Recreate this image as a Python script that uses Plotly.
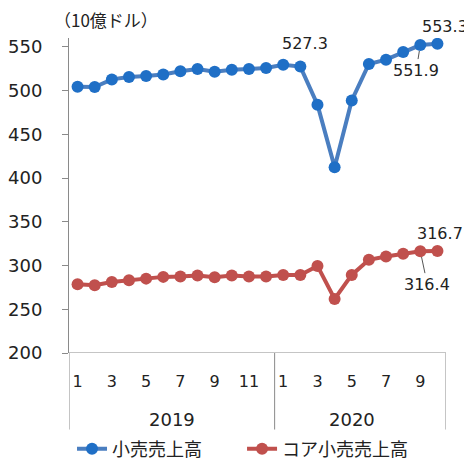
import plotly.graph_objects as go

months = ["1","2","3","4","5","6","7","8","9","10","11","12",
          "1","2","3","4","5","6","7","8","9","10"]
years = ["2019", "2020"]
retail = [504.3, 504.0, 512.7, 515.4, 516.6, 518.4, 521.9, 524.6, 521.5, 523.8, 524.6, 525.7,
          529.5, 527.3, 483.8, 412.4, 488.7, 530.3, 535.2, 544.0, 551.9, 553.3]
core = [278.6, 277.4, 281.2, 283.2, 285.0, 287.0, 287.3, 288.5, 286.6, 288.5, 287.3, 287.3,
        289.2, 289.2, 299.5, 261.8, 289.2, 306.5, 310.2, 313.3, 316.4, 316.7]
series_names = ["小売売上高", "コア小売売上高"]
yticks = [200, 250, 300, 350, 400, 450, 500, 550]

x = list(range(len(months)))
NUM = "Verdana, DejaVu Sans, Noto Sans CJK JP"
JP = "Noto Sans CJK JP"

fig = go.Figure()
fig.add_trace(go.Scatter(x=x, y=retail, name=series_names[0], mode="lines+markers",
                         line=dict(color="#4A7EC0", width=4),
                         marker=dict(color="#1F6FC6", size=12), legend="legend"))
fig.add_trace(go.Scatter(x=x, y=core, name=series_names[1], mode="lines+markers",
                         line=dict(color="#C0504D", width=4),
                         marker=dict(color="#C0504D", size=12), legend="legend2"))

tv = [i for i in x if int(months[i]) % 2 == 1]
fig.update_xaxes(range=[-0.5, len(months) - 0.5], tickvals=tv, ticktext=[months[i] for i in tv],
                 showgrid=False, zeroline=False, showline=False, automargin=False,
                 ticks="outside", ticklen=14, tickcolor="rgba(0,0,0,0)",
                 tickfont=dict(family=NUM, size=16, color="#222"))
fig.update_yaxes(range=[200, 560], tickvals=yticks, showgrid=False, zeroline=False,
                 showline=True, linecolor="#8a8a8a", linewidth=1, automargin=False,
                 ticks="outside", ticklen=6, tickcolor="#8a8a8a", ticklabelstandoff=16,
                 tickfont=dict(family=NUM, size=18, color="#222"))

# category axis line and group dividers
fig.add_shape(type="line", xref="x", yref="y", x0=-0.5, x1=len(months) - 0.5, y0=200, y1=200,
              line=dict(color="#8a8a8a", width=1))
for xv in [-0.5, 11.5, len(months) - 0.5]:
    fig.add_shape(type="line", xref="x", yref="paper", x0=xv, x1=xv, y0=0, y1=-0.243,
                  line=dict(color="#8a8a8a", width=1))
for yr, xc in zip(years, [5.5, 16]):
    fig.add_annotation(x=xc, xref="x", y=-0.21, yref="paper", text=yr, showarrow=False,
                       font=dict(family=NUM, size=18, color="#222"), yanchor="middle")

lab = dict(family=NUM, size=16, color="#222")
fig.add_annotation(x=13, y=retail[13], text="527.3", showarrow=False, yshift=23, xshift=5, font=lab)
fig.add_annotation(x=21, y=retail[21], text="553.3", showarrow=False, yshift=17, xshift=8, font=lab)
fig.add_annotation(x=20, y=retail[20], text="551.9", showarrow=True, arrowhead=0, arrowwidth=1,
                   arrowcolor="#555", ax=-4, ay=25, standoff=6, font=lab)
fig.add_annotation(x=21, y=core[21], text="316.7", showarrow=False, yshift=17, xshift=3, font=lab)
fig.add_annotation(x=20, y=core[20], text="316.4", showarrow=True, arrowhead=0, arrowwidth=1,
                   arrowcolor="#555", ax=7, ay=33, standoff=6, font=lab)

fig.add_annotation(x=-0.045, xref="paper", y=1.06, yref="paper", text="（10億ドル）", showarrow=False,
                   font=dict(family=JP, size=17, color="#222"), xanchor="left", yanchor="middle")

leg = dict(orientation="h", xanchor="left", yref="container", y=1 - 441 / 461, yanchor="middle",
           font=dict(family=JP, size=18, color="#222"), itemwidth=30, bgcolor="rgba(0,0,0,0)")
fig.update_layout(width=472, height=461, margin=dict(l=61, r=34, t=30, b=116, autoexpand=False),
                  plot_bgcolor="white", paper_bgcolor="white", showlegend=True,
                  legend=dict(leg, x=0.008), legend2=dict(leg, x=0.459))
fig.write_html("out.html")
